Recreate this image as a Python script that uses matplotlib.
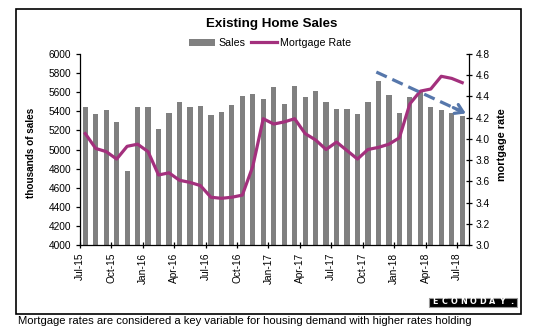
import matplotlib
matplotlib.use("Agg")
import matplotlib.pyplot as plt
from matplotlib.patches import Rectangle, Patch
from matplotlib.lines import Line2D
import numpy as np

plt.rcParams['font.family'] = ['Liberation Sans', 'DejaVu Sans']

# ---------------- data ----------------
tick_labels = ["Jul-15", "Oct-15", "Jan-16", "Apr-16", "Jul-16", "Oct-16", "Jan-17",
               "Apr-17", "Jul-17", "Oct-17", "Jan-18", "Apr-18", "Jul-18"]
sales = [5440, 5370, 5410, 5290, 4780, 5440, 5440, 5210, 5380, 5500, 5450, 5460,
         5360, 5390, 5470, 5560, 5580, 5530, 5650, 5480, 5670, 5550, 5610, 5500,
         5420, 5420, 5370, 5500, 5720, 5570, 5380, 5550, 5600, 5450, 5410, 5380, 5350]
mortgage_rate = [4.05, 3.91, 3.88, 3.81, 3.93, 3.95, 3.88, 3.66, 3.68, 3.61, 3.59, 3.56,
                 3.45, 3.44, 3.45, 3.47, 3.74, 4.19, 4.14, 4.16, 4.19, 4.05, 3.99, 3.90,
                 3.97, 3.89, 3.81, 3.90, 3.92, 3.95, 4.01, 4.33, 4.45, 4.47, 4.59, 4.57, 4.53]
# trend arrow (month index, rate)
arrow_start = (27.8, 4.63)
arrow_end = (36.35, 4.24)

BAR_COLOR = '#808080'
LINE_COLOR = '#a3307d'
ARROW_COLOR = '#5677ab'

W, H = 533, 328
fig = plt.figure(figsize=(W / 100, H / 100), dpi=100)
fig.patch.set_facecolor('white')

L, R, T, B = 80, 469, 54, 245
ax = fig.add_axes([L / W, 1 - B / H, (R - L) / W, (B - T) / H])

x = np.arange(len(sales))
ax.bar(x, sales, width=0.5, color=BAR_COLOR, zorder=2)
ax.set_ylim(4000, 6000)
ax.set_yticks(np.arange(4000, 6001, 200))
ax.set_xlim(-0.5, 36.65)
ax.set_xticks(np.arange(0, len(sales), 3) - 0.5)
ax.set_xticklabels(tick_labels, rotation=90)

ax2 = ax.twinx()
ax2.plot(x, mortgage_rate, color=LINE_COLOR, lw=2.3, solid_joinstyle='round', zorder=3)
ax2.set_ylim(3.0, 4.8)
ax2.set_yticks(np.arange(3.0, 4.81, 0.2))
ax2.set_yticklabels([f"{v:.1f}" for v in np.arange(3.0, 4.81, 0.2)])

# trend arrow
ax2.plot([arrow_start[0], arrow_end[0] - 0.35], [arrow_start[1], arrow_end[1] + 0.016],
         color=ARROW_COLOR, lw=2.3, ls=(0, (3.6, 1.9)), solid_capstyle='butt', zorder=4)
ax2.annotate('', xy=arrow_end, xytext=(arrow_end[0] - 1.2, arrow_end[1] + 0.055),
             arrowprops=dict(arrowstyle='->,head_length=0.55,head_width=0.35',
                             color=ARROW_COLOR, lw=2.3, shrinkA=0, shrinkB=0), zorder=4)

for a in (ax, ax2):
    a.spines['top'].set_visible(False)
    a.set_facecolor('none')
    for s in a.spines.values():
        s.set_linewidth(0.9)
ax.spines['right'].set_visible(False)
ax2.spines['left'].set_visible(False)
ax2.spines['bottom'].set_visible(False)

ax.tick_params(axis='y', direction='out', length=3, width=0.9, labelsize=7.3, pad=3.5)
ax.tick_params(axis='x', direction='inout', length=5, width=0.9, labelsize=7.3, pad=3)
ax2.tick_params(axis='y', direction='inout', length=5, width=0.9, labelsize=7.3, pad=2.5)

# title, axis labels
fig.text(271.5 / W, 1 - 24.3 / H, 'Existing Home Sales', ha='center', va='center',
         fontsize=9.6, fontweight='bold')
fig.text(31 / W, 1 - 153 / H, 'thousands of sales', rotation=90, ha='center', va='center',
         fontsize=7.2, fontweight='bold')
fig.text(502 / W, 1 - 145 / H, 'mortgage rate', rotation=90, ha='center', va='center',
         fontsize=7.8, fontweight='bold')

# legend
handles = [Patch(facecolor=BAR_COLOR, edgecolor='none'),
           Line2D([], [], color=LINE_COLOR, lw=2.3)]
fig.legend(handles, ['Sales', 'Mortgage Rate'], loc='center',
           bbox_to_anchor=(270 / W, 1 - 43 / H), ncol=2, frameon=False,
           fontsize=7.7, handlelength=2.4, handletextpad=0.3, columnspacing=0.55,
           handleheight=0.6, borderpad=0)

# outer frame
fig.patches.append(Rectangle((16 / W, 1 - 314.3 / H), (521 - 16) / W, (314.3 - 9.3) / H,
                             transform=fig.transFigure, fill=False, lw=1.2, ec='black'))

# Econoday logo
lx0, lx1, ly0, ly1 = 429, 517, 297.5, 306.5
fig.patches.append(Rectangle((lx0 / W, 1 - ly1 / H), (lx1 - lx0) / W, (ly1 - ly0) / H,
                             transform=fig.transFigure, fc='black', ec='#9a9a9a', lw=0.8))
logo = "ECONODAY."
for i, ch in enumerate(logo):
    px = 434.5 + i * 9.6
    fig.text(px / W, 1 - 302 / H, ch, color='white', fontsize=5.8, fontweight='bold',
             ha='center', va='center', family='DejaVu Sans')

# caption below the frame
fig.text(18 / W, 1 - 316.5 / H,
         'Mortgage rates are considered a key variable for housing demand with higher rates holding',
         ha='left', va='top', fontsize=8.1)

fig.savefig('out.png', dpi=100, facecolor='white')
